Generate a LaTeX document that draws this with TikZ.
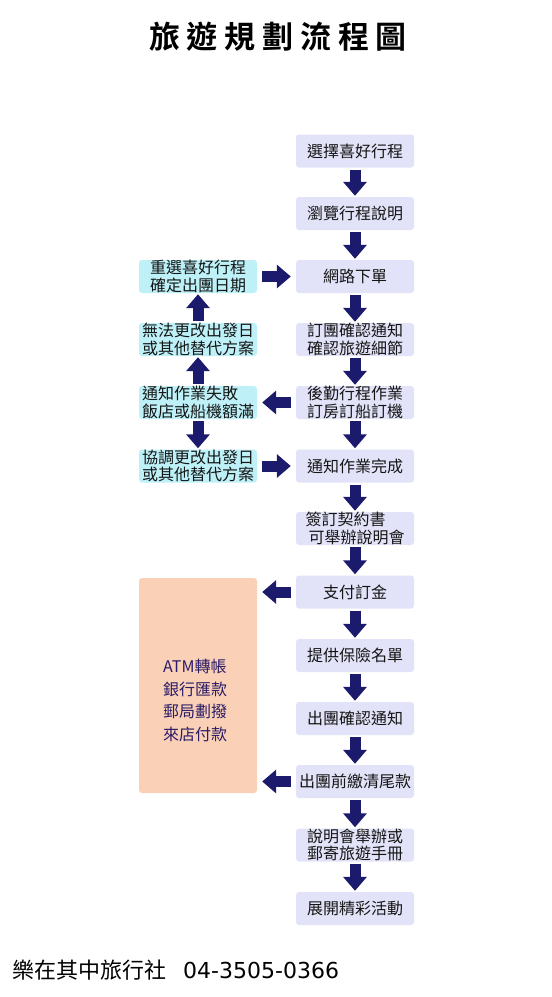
\documentclass[tikz,border=0pt]{standalone}
\usepackage{fontspec}
\setmainfont{Noto Sans CJK TC}
\newfontfamily\titlefont{Noto Sans CJK TC Bold}
\newfontfamily\digitfont{DejaVu Sans}
\usetikzlibrary{arrows.meta}
\definecolor{navy}{HTML}{1B1A6C}
\definecolor{lav}{HTML}{E2E3F8}
\definecolor{cyanbox}{HTML}{BDF0F7}
\definecolor{peach}{HTML}{FAD1B6}
\definecolor{txt}{HTML}{151515}
\definecolor{paytxt}{HTML}{2A1B68}
\tikzset{
  rbox/.style={fill=lav, rounded corners=3pt, minimum width=118pt, minimum height=33pt,
    inner sep=0pt, text=txt, font=\fontsize{16}{17.5}\selectfont, align=left},
  lbox/.style={rbox, fill=cyanbox},
  barrow/.style={draw=navy, line width=11pt,
    -{Triangle[width=23pt,length=14pt]}, color=navy},
  varrow/.style={barrow, shorten <=2pt, shorten >=1pt},
  harrow/.style={barrow, shorten <=5pt, shorten >=5pt},
}
\begin{document}
\begin{tikzpicture}[x=1pt,y=-1pt]
\useasboundingbox[fill=white] (0,0) rectangle (552,997);
\node[font=\titlefont\fontsize{31}{34}\selectfont\addfontfeatures{LetterSpace=22}] (title) at (278,37) {旅遊規劃流程圖};
% right column
\node[rbox] (r1) at (355,151) {選擇喜好行程};
\node[rbox] (r2) at (355,213.5) {瀏覽行程說明};
\node[rbox] (r3) at (355,276.5) {網路下單};
\node[rbox] (r4) at (355,339.5) {訂團確認通知\\確認旅遊細節};
\node[rbox] (r5) at (355,402.5) {後勤行程作業\\訂房訂船訂機};
\node[rbox] (r6) at (355,466) {通知作業完成};
\node[rbox] (r7) at (355,528.5) {簽訂契約書\\\hspace{3pt}可舉辦說明會};
\node[rbox] (r8) at (355,592) {支付訂金};
\node[rbox] (r9) at (355,655.5) {提供保險名單};
\node[rbox] (r10) at (355,718.5) {出團確認通知};
\node[rbox] (r11) at (355,781.5) {出團前繳清尾款};
\node[rbox] (r12) at (355,845) {說明會舉辦或\\郵寄旅遊手冊};
\node[rbox] (r13) at (355,908.5) {展開精彩活動};
% left column
\node[lbox] (l1) at (198,276.5) {重選喜好行程\\確定出團日期};
\node[lbox] (l2) at (198,339.5) {無法更改出發日\\或其他替代方案};
\node[lbox] (l3) at (198,402.5) {通知作業失敗\\飯店或船機額滿};
\node[lbox] (l4) at (198,466) {協調更改出發日\\或其他替代方案};
\node[fill=peach, rounded corners=3pt, minimum width=118pt, minimum height=215pt, inner sep=0pt] (pay) at (198,685.5) {};
\node[anchor=west, text=paytxt, font=\fontsize{16}{22.5}\selectfont, align=left, inner sep=0pt] (paytext) at (163,700.5) {ATM轉帳\\銀行匯款\\郵局劃撥\\來店付款};
% down arrows
\foreach \a/\b in {r1/r2,r2/r3,r3/r4,r4/r5,r5/r6,r6/r7,r7/r8,r8/r9,r9/r10,r10/r11,r11/r12,r12/r13}
  \draw[varrow] (\a.south) -- (\b.north);
\draw[varrow] (l2.north) -- (l1.south);
\draw[varrow] (l3.north) -- (l2.south);
\draw[varrow] (l3.south) -- (l4.north);
% horizontal arrows
\draw[harrow] (l1.east) -- (r3.west);
\draw[harrow] (r5.west) -- (l3.east);
\draw[harrow] (l4.east) -- (r6.west);
\coordinate (p1) at (pay.east |- r8.west);
\coordinate (p2) at (pay.east |- r11.west);
\draw[harrow] (r8.west) -- (p1);
\draw[harrow] (r11.west) -- (p2);
% footer
\node[anchor=west, inner sep=0pt, font=\fontsize{22}{26}\selectfont] (footer) at (12,970) {樂在其中旅行社\hspace{17pt}{\digitfont 04-3505-0366}};
\end{tikzpicture}
\end{document}
